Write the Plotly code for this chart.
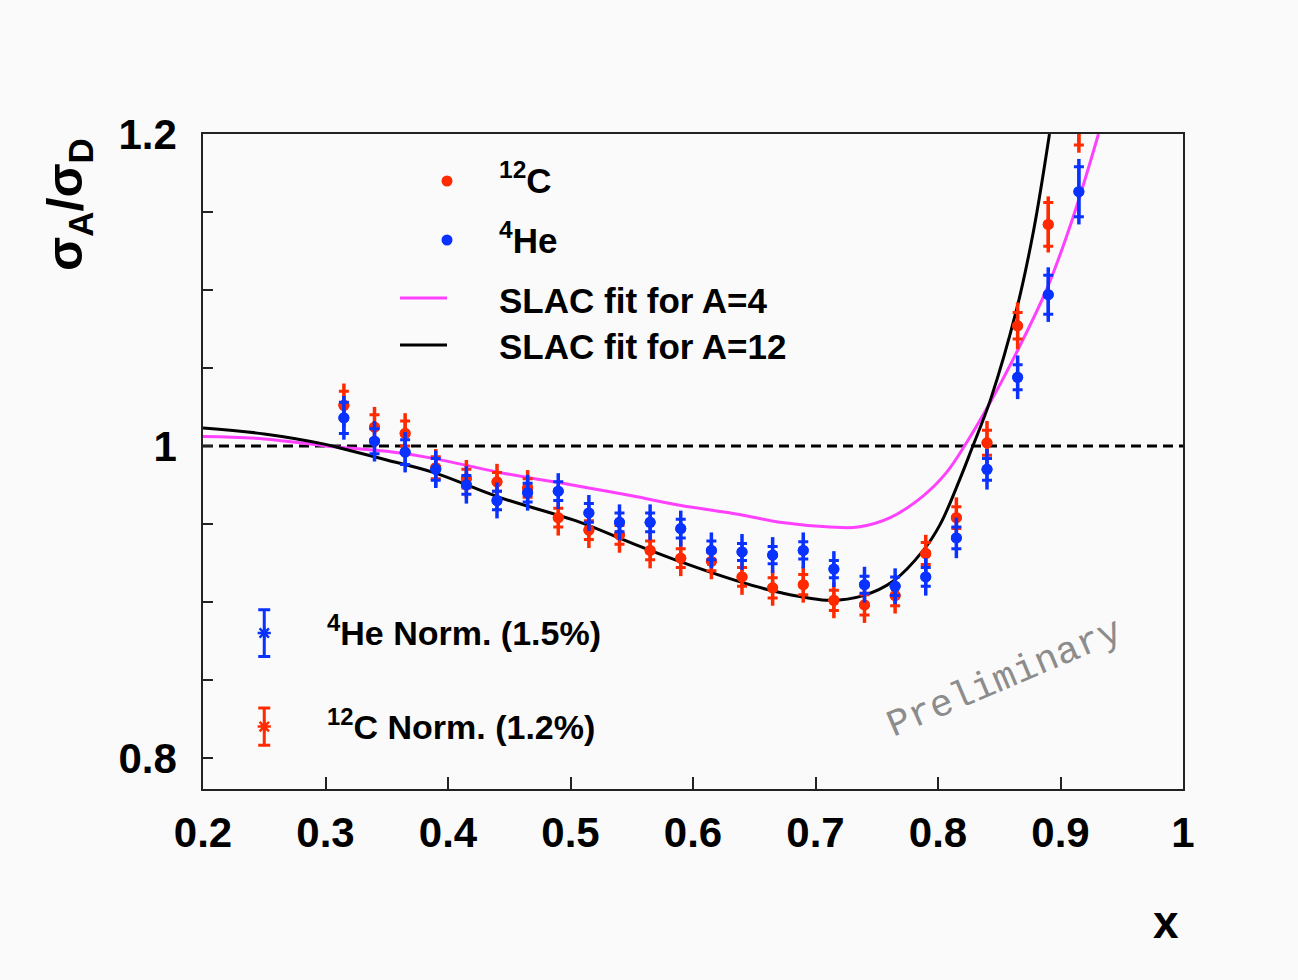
import plotly.graph_objects as go

# ---------------- data ----------------
x_pts = [0.315, 0.34, 0.365, 0.39, 0.415, 0.44, 0.465, 0.49, 0.515, 0.54, 0.565, 0.59, 0.615,
         0.64, 0.665, 0.69, 0.715, 0.74, 0.765, 0.79, 0.815, 0.84, 0.865, 0.89, 0.915]

ratio_C = [1.026, 1.012, 1.008, 0.986, 0.979, 0.977, 0.973, 0.954, 0.946, 0.943, 0.933, 0.928, 0.926,
           0.916, 0.909, 0.911, 0.901, 0.898, 0.904, 0.931, 0.954, 1.002, 1.077, 1.142, 1.209]
stat_C = [0.009, 0.008, 0.008, 0.007, 0.006, 0.006, 0.006, 0.006, 0.006, 0.006, 0.006, 0.006, 0.006,
          0.006, 0.0065, 0.0065, 0.0065, 0.0065, 0.0065, 0.007, 0.007, 0.008, 0.0085, 0.014, 0.016]
tot_C = [0.014, 0.013, 0.013, 0.012, 0.012, 0.0115, 0.0115, 0.0115, 0.0115, 0.0115, 0.0115, 0.0115, 0.0115,
         0.0115, 0.0115, 0.0115, 0.0115, 0.0115, 0.0115, 0.012, 0.013, 0.014, 0.015, 0.018, 0.021]

ratio_He = [1.018, 1.003, 0.996, 0.985, 0.975, 0.965, 0.970, 0.971, 0.957, 0.951, 0.951, 0.947, 0.933,
            0.932, 0.930, 0.933, 0.921, 0.911, 0.910, 0.916, 0.941, 0.985, 1.044, 1.097, 1.163]
stat_He = [0.010, 0.008, 0.008, 0.007, 0.006, 0.006, 0.006, 0.006, 0.006, 0.006, 0.006, 0.006, 0.006,
           0.0055, 0.0055, 0.0055, 0.0055, 0.0055, 0.006, 0.006, 0.007, 0.007, 0.008, 0.0125, 0.016]
tot_He = [0.014, 0.013, 0.013, 0.012, 0.012, 0.0115, 0.0115, 0.0115, 0.0115, 0.0115, 0.0115, 0.0115, 0.0115,
          0.0115, 0.0115, 0.0115, 0.0115, 0.0115, 0.0115, 0.012, 0.013, 0.013, 0.014, 0.0175, 0.021]

# SLAC fit curves
x_fit4 = [0.20, 0.25, 0.30, 0.35, 0.388, 0.442, 0.508, 0.55, 0.589, 0.638, 0.671, 0.712, 0.735,
          0.761, 0.788, 0.807, 0.824, 0.842, 0.861, 0.889, 0.910, 0.931]
y_fit4 = [1.006, 1.0045, 1.000, 0.9965, 0.992, 0.983, 0.974, 0.968, 0.962, 0.956, 0.951, 0.948, 0.948,
          0.954, 0.968, 0.983, 1.003, 1.027, 1.055, 1.101, 1.146, 1.200]

x_fit12 = [0.20, 0.25, 0.30, 0.315, 0.35, 0.388, 0.442, 0.508, 0.549, 0.589, 0.638, 0.671, 0.712,
           0.739, 0.763, 0.788, 0.802, 0.818, 0.827, 0.843, 0.864, 0.878, 0.891]
y_fit12 = [1.0115, 1.0077, 1.001, 0.998, 0.991, 0.983, 0.967, 0.951, 0.938, 0.926, 0.913, 0.906, 0.901,
           0.904, 0.913, 0.933, 0.950, 0.979, 0.997, 1.030, 1.087, 1.138, 1.200]

unity_x = [0.2, 1.0]
unity_y = [1.0, 1.0]

norm_x = [0.25]
norm_He = [0.880]
norm_He_err = [0.015]
norm_C = [0.820]
norm_C_err = [0.012]

y_tickvals = [0.80, 0.85, 0.90, 0.95, 1.00, 1.05, 1.10, 1.15, 1.20]
y_ticktext = ["0.8", "", "", "", "1", "", "", "", "1.2"]
x_tickvals = [0.2, 0.3, 0.4, 0.5, 0.6, 0.7, 0.8, 0.9, 1.0]
x_ticktext = ["0.2", "0.3", "0.4", "0.5", "0.6", "0.7", "0.8", "0.9", "1"]

# ---------------- style ----------------
RED = "#ff2a00"
BLUE = "#0a32ff"
MAGENTA = "#ff40ff"
BG = "#fafafa"
FONT = "Liberation Sans"

W, H = 1298, 980
L, R, T, B = 203, 1183, 134, 789  # plot area in pixels


def px(xp):
    return (xp - L) / (R - L)


def py(yp):
    return (B - yp) / (B - T)


fig = go.Figure()

# dashed unity line
fig.add_trace(go.Scatter(x=unity_x, y=unity_y, mode="lines",
                         line=dict(color="black", width=3, dash="10px,6px"),
                         showlegend=False, hoverinfo="skip"))

# SLAC fits
fig.add_trace(go.Scatter(x=x_fit4, y=y_fit4, mode="lines", line_shape="spline",
                         line=dict(color=MAGENTA, width=3), showlegend=False))
fig.add_trace(go.Scatter(x=x_fit12, y=y_fit12, mode="lines", line_shape="spline",
                         line=dict(color="black", width=3), showlegend=False))


def add_points(yvals, stat, tot, color):
    # total error (no caps)
    fig.add_trace(go.Scatter(x=x_pts, y=yvals, mode="markers",
                             marker=dict(size=11, color=color),
                             error_y=dict(type="data", array=tot, color=color, thickness=3.5, width=0),
                             showlegend=False))
    # statistical error (with caps)
    fig.add_trace(go.Scatter(x=x_pts, y=yvals, mode="markers",
                             marker=dict(size=11, color=color),
                             error_y=dict(type="data", array=stat, color=color, thickness=3, width=5),
                             showlegend=False))


add_points(ratio_C, stat_C, tot_C, RED)
add_points(ratio_He, stat_He, tot_He, BLUE)

# normalisation error bars
fig.add_trace(go.Scatter(x=norm_x, y=norm_He, mode="markers",
                         marker=dict(symbol="asterisk-open", size=11, color=BLUE, line=dict(color=BLUE, width=2.5)),
                         error_y=dict(type="data", array=norm_He_err, color=BLUE, thickness=3, width=6),
                         showlegend=False))
fig.add_trace(go.Scatter(x=norm_x, y=norm_C, mode="markers",
                         marker=dict(symbol="asterisk-open", size=11, color=RED, line=dict(color=RED, width=2.5)),
                         error_y=dict(type="data", array=norm_C_err, color=RED, thickness=3, width=6),
                         showlegend=False))

# ---------------- legend (drawn manually) ----------------
shapes = []
for (cy, col) in [(181, RED), (240, BLUE)]:
    shapes.append(dict(type="circle", xref="paper", yref="paper",
                       x0=px(441.5), x1=px(452.5), y0=py(cy + 5.5), y1=py(cy - 5.5),
                       fillcolor=col, line=dict(color=col, width=0)))
for (cy, col) in [(298, MAGENTA), (345, "black")]:
    shapes.append(dict(type="line", xref="paper", yref="paper",
                       x0=px(400), x1=px(447), y0=py(cy), y1=py(cy),
                       line=dict(color=col, width=3)))

ann = []
leg_font = dict(family=FONT, size=35, color="black", weight="bold")
for text, cy in [("<sup>12</sup>C", 178), ("<sup>4</sup>He", 238),
                 ("SLAC fit for A=4", 300), ("SLAC fit for A=12", 346)]:
    ann.append(dict(text=text, xref="paper", yref="paper", x=px(497), y=py(cy),
                    xanchor="left", yanchor="middle", showarrow=False, font=leg_font))

for text, yv in [("<sup>4</sup>He Norm. (1.5%)", norm_He[0]), ("<sup>12</sup>C Norm. (1.2%)", norm_C[0])]:
    ann.append(dict(text=text, xref="x", yref="y", x=0.2995, y=yv + 0.0015,
                    xanchor="left", yanchor="middle", showarrow=False,
                    font=dict(family=FONT, size=34, color="black", weight="bold")))

# axis titles
ann.append(dict(text="σ<sub>A</sub>/σ<sub>D</sub>", xref="paper", yref="paper",
                x=px(68), y=py(205), xanchor="center", yanchor="middle", textangle=-90,
                showarrow=False, font=dict(family=FONT, size=50, color="black", weight="bold")))
ann.append(dict(text="x", xref="paper", yref="paper", x=px(1166), y=py(922),
                xanchor="center", yanchor="middle", showarrow=False,
                font=dict(family=FONT, size=46, color="black", weight="bold")))

# Preliminary watermark
ann.append(dict(text="Preliminary", xref="paper", yref="paper", x=px(1004), y=py(678),
                xanchor="center", yanchor="middle", textangle=-23, showarrow=False,
                font=dict(family="Liberation Mono", size=38, color="#8c8c8c")))

fig.update_layout(
    width=W, height=H, autosize=False,
    margin=dict(l=L, r=W - R, t=T, b=H - B, pad=0),
    paper_bgcolor=BG, plot_bgcolor=BG,
    shapes=shapes, annotations=ann, showlegend=False,
)

fig.update_xaxes(range=[0.2, 1.0], showgrid=False, zeroline=False,
                 showline=True, linecolor="#222", linewidth=1.5, mirror=True,
                 ticks="inside", ticklen=12, tickwidth=1.5, tickcolor="#222",
                 tickvals=x_tickvals, ticktext=x_ticktext, ticklabelstandoff=6,
                 tickfont=dict(family=FONT, size=42, color="black", weight="bold"))
fig.update_yaxes(range=[0.78, 1.2], showgrid=False, zeroline=False,
                 showline=True, linecolor="#222", linewidth=1.5, mirror=True,
                 ticks="inside", ticklen=10, tickwidth=1.5, tickcolor="#222",
                 tickvals=y_tickvals, ticktext=y_ticktext, ticklabelstandoff=16,
                 tickfont=dict(family=FONT, size=42, color="black", weight="bold"))

fig.write_html("out.html")
